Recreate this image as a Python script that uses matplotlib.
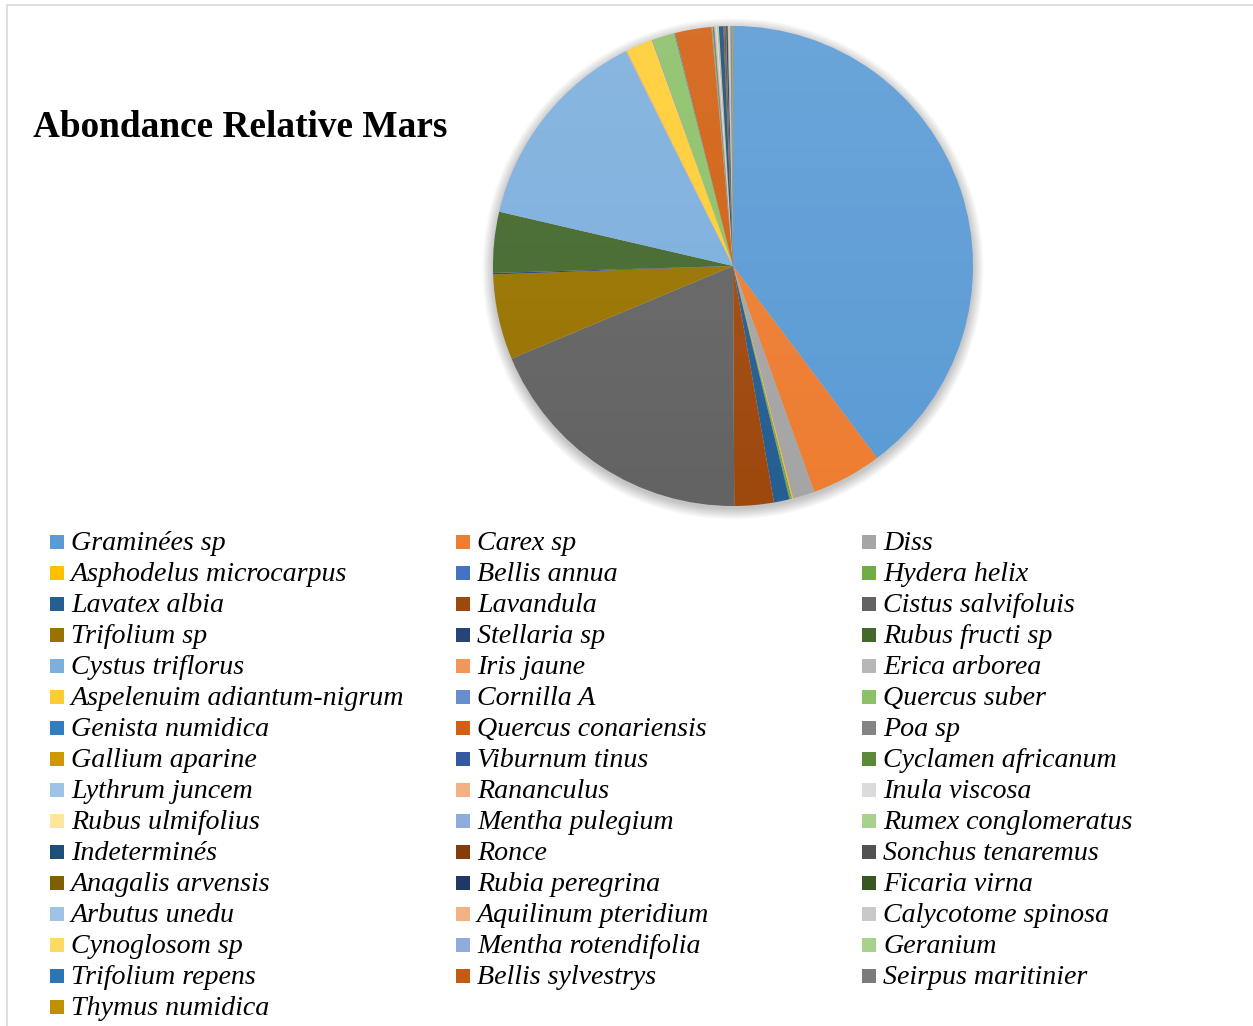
import numpy as np
import matplotlib

matplotlib.use("Agg")
import matplotlib.pyplot as plt
from matplotlib.patches import Rectangle, Circle

# ── Data ──────────────────────────────────────────────────────────────────
species = [
    "Graminées sp", "Carex sp", "Diss",
    "Asphodelus microcarpus", "Bellis annua", "Hydera helix",
    "Lavatex albia", "Lavandula", "Cistus salvifoluis",
    "Trifolium sp", "Stellaria sp", "Rubus fructi sp",
    "Cystus triflorus", "Iris jaune", "Erica arborea",
    "Aspelenuim adiantum-nigrum", "Cornilla A", "Quercus suber",
    "Genista numidica", "Quercus conariensis", "Poa sp",
    "Gallium aparine", "Viburnum tinus", "Cyclamen africanum",
    "Lythrum juncem", "Rananculus", "Inula viscosa",
    "Rubus ulmifolius", "Mentha pulegium", "Rumex conglomeratus",
    "Indeterminés", "Ronce", "Sonchus tenaremus",
    "Anagalis arvensis", "Rubia peregrina", "Ficaria virna",
    "Arbutus unedu", "Aquilinum pteridium", "Calycotome spinosa",
    "Cynoglosom sp", "Mentha rotendifolia", "Geranium",
    "Trifolium repens", "Bellis sylvestrys", "Seirpus maritinier",
    "Thymus numidica",
]

# relative abundance (%)
abundance = [
    39.8, 4.75, 1.47,
    0.10, 0.05, 0.10,
    1.05, 2.65, 18.8,
    5.75, 0.10, 4.10,
    14.0, 0.05, 0.05,
    1.80, 0.05, 1.50,
    0.05, 2.45, 0.05,
    0.05, 0.05, 0.05,
    0.05, 0.05, 0.05,
    0.05, 0.05, 0.05,
    0.30, 0.05, 0.10,
    0.03, 0.10, 0.02,
    0.03, 0.03, 0.03,
    0.03, 0.03, 0.03,
    0.05, 0.03, 0.03,
    0.05,
]

colors = [
    "#5B9BD5", "#ED7D31", "#A5A5A5", "#FFC000", "#4472C4", "#70AD47",
    "#255E91", "#9E480E", "#636363", "#997300", "#264478", "#43682B",
    "#7CAFDD", "#F1975A", "#B7B7B7", "#FFCD33", "#698ED0", "#8CC168",
    "#327DC2", "#D26012", "#848484", "#CC9A00", "#335AA1", "#5A8A39",
    "#9DC3E6", "#F4B183", "#DBDBDB", "#FFE699", "#8FAADC", "#A9D18E",
    "#1F4E79", "#843C0C", "#525252", "#7F6000", "#203864", "#385723",
    "#9DC3E6", "#F4B183", "#C9C9C9", "#FFD966", "#8FAADC", "#A9D18E",
    "#2E75B6", "#C55A11", "#7B7B7B", "#BF9000",
]

W, H = 1253, 1026
fig = plt.figure(figsize=(W / 100, H / 100), dpi=100)
fig.patch.set_facecolor("white")

# chart frame
fig.patches.append(Rectangle((7 / W, -0.01), 1.0, 1 - 5 / H + 0.01,
                             transform=fig.transFigure, fill=False,
                             edgecolor="#D9D9D9", linewidth=1.2))

fig.text(33 / W, 1 - 137 / H, "Abondance Relative Mars", family="Liberation Serif",
         fontsize=26.8, fontweight="bold", va="baseline", ha="left")

# ── Pie ───────────────────────────────────────────────────────────────────
cx, cy, r = 733, 266, 240
ax = fig.add_axes([(cx - r) / W, 1 - (cy + r) / H, 2 * r / W, 2 * r / H])
ax.set_aspect("equal")
ax.axis("off")

# soft drop shadow under the pie
for k in range(12):
    ax.add_patch(Circle((0, -0.012), 1.0 + 0.004 * k, color="black",
                        alpha=0.018, linewidth=0, zorder=0, clip_on=False))

ax.pie(abundance, colors=colors, startangle=90, counterclock=False,
       radius=1.0, wedgeprops=dict(linewidth=0, zorder=1))

# faint top-lit sheen over the slices
grad = np.linspace(0.10, 0.0, 256)[:, None] * np.ones((1, 2))
sheen = np.zeros((256, 2, 4))
sheen[..., :3] = 1.0
sheen[..., 3] = grad
img = ax.imshow(sheen, extent=(-1, 1, -1, 1), origin="upper", zorder=2,
                interpolation="bilinear", aspect="auto")
img.set_clip_path(Circle((0, 0), 1.0, transform=ax.transData))
ax.set_xlim(-1, 1)
ax.set_ylim(-1, 1)

# ── Legend (three columns, row-major) ────────────────────────────────────
col_x = [50, 456, 862]
base0, row_dy = 550, 31.0
for i, (name, c) in enumerate(zip(species, colors)):
    row, col = divmod(i, 3)
    y = base0 + row * row_dy
    x = col_x[col]
    fig.patches.append(Rectangle((x / W, 1 - (y - 1) / H), 14 / W, 14 / H,
                                 transform=fig.transFigure, facecolor=c,
                                 edgecolor="none"))
    fig.text((x + 21) / W, 1 - y / H, name, family="Liberation Serif",
             style="italic", fontsize=20.2, va="baseline", ha="left")

fig.savefig("out.png", dpi=100)
